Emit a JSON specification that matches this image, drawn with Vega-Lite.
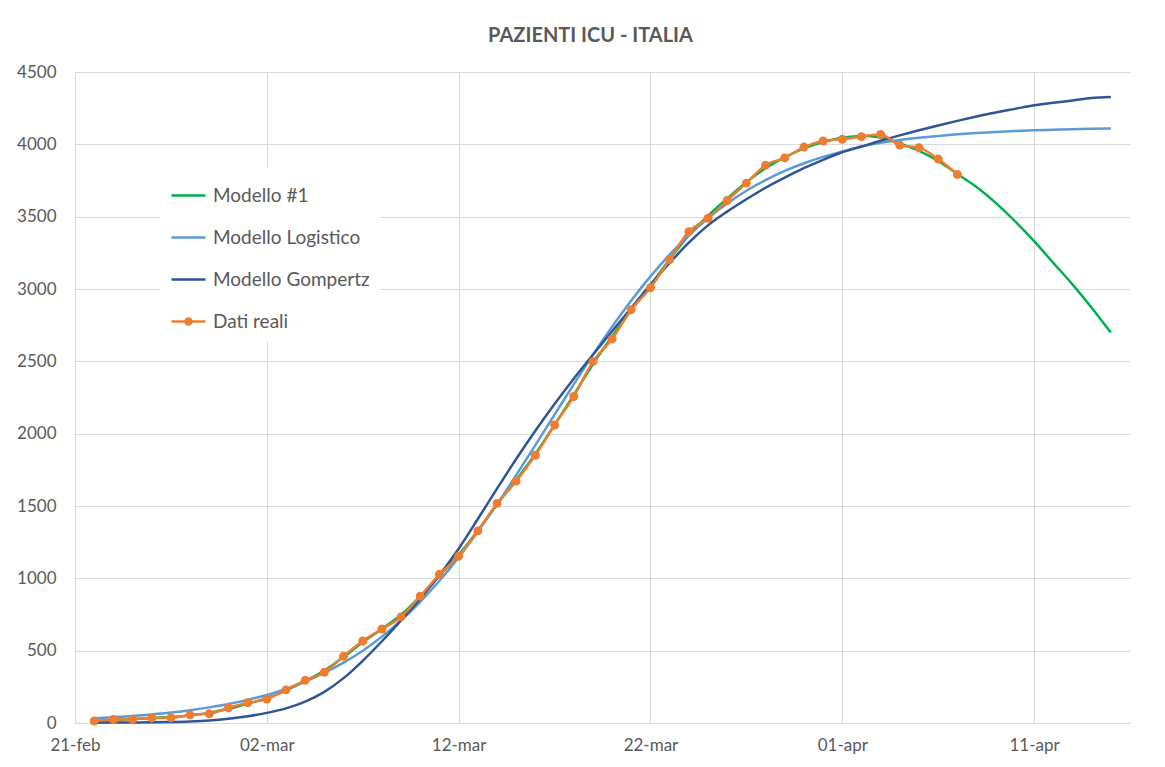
{
  "$schema": "https://vega.github.io/schema/vega-lite/v6.json",
  "width": 1055,
  "height": 651,
  "autosize": {"type": "none"},
  "padding": {"left": 75, "top": 72, "right": 35, "bottom": 44},
  "background": "white",
  "title": {
    "text": "PAZIENTI ICU - ITALIA",
    "font": "Lato",
    "fontSize": 20,
    "fontWeight": "bold",
    "color": "#595959",
    "offset": 17,
    "dx": -12,
    "anchor": "middle"
  },
  "config": {
    "view": {"stroke": null},
    "axis": {
      "labelFont": "Lato",
      "labelFontSize": 17,
      "labelColor": "#595959",
      "gridColor": "#D9D9D9",
      "gridWidth": 1,
      "ticks": false,
      "tickSize": 0,
      "title": null
    }
  },
  "data": {
    "values": [
      {"data": "2020-02-22", "modello1": 15, "logistico": 32, "gompertz": 2, "reali": 14},
      {"data": "2020-02-23", "modello1": 21, "logistico": 39, "gompertz": 3, "reali": 24},
      {"data": "2020-02-24", "modello1": 27, "logistico": 48, "gompertz": 4, "reali": 26},
      {"data": "2020-02-25", "modello1": 33, "logistico": 59, "gompertz": 5, "reali": 35},
      {"data": "2020-02-26", "modello1": 41, "logistico": 72, "gompertz": 7, "reali": 36},
      {"data": "2020-02-27", "modello1": 52, "logistico": 88, "gompertz": 11, "reali": 56},
      {"data": "2020-02-28", "modello1": 70, "logistico": 108, "gompertz": 18, "reali": 64},
      {"data": "2020-02-29", "modello1": 98, "logistico": 131, "gompertz": 30, "reali": 105},
      {"data": "2020-03-01", "modello1": 133, "logistico": 160, "gompertz": 47, "reali": 140},
      {"data": "2020-03-02", "modello1": 172, "logistico": 194, "gompertz": 70, "reali": 166},
      {"data": "2020-03-03", "modello1": 226, "logistico": 236, "gompertz": 101, "reali": 229},
      {"data": "2020-03-04", "modello1": 290, "logistico": 286, "gompertz": 148, "reali": 295},
      {"data": "2020-03-05", "modello1": 362, "logistico": 346, "gompertz": 215, "reali": 351},
      {"data": "2020-03-06", "modello1": 456, "logistico": 417, "gompertz": 310, "reali": 462},
      {"data": "2020-03-07", "modello1": 558, "logistico": 500, "gompertz": 430, "reali": 567},
      {"data": "2020-03-08", "modello1": 650, "logistico": 597, "gompertz": 565, "reali": 650},
      {"data": "2020-03-09", "modello1": 748, "logistico": 709, "gompertz": 710, "reali": 733},
      {"data": "2020-03-10", "modello1": 876, "logistico": 838, "gompertz": 860, "reali": 877},
      {"data": "2020-03-11", "modello1": 1020, "logistico": 983, "gompertz": 1022, "reali": 1028},
      {"data": "2020-03-12", "modello1": 1162, "logistico": 1145, "gompertz": 1205, "reali": 1153},
      {"data": "2020-03-13", "modello1": 1330, "logistico": 1322, "gompertz": 1410, "reali": 1328},
      {"data": "2020-03-14", "modello1": 1510, "logistico": 1512, "gompertz": 1620, "reali": 1518},
      {"data": "2020-03-15", "modello1": 1680, "logistico": 1713, "gompertz": 1825, "reali": 1672},
      {"data": "2020-03-16", "modello1": 1860, "logistico": 1921, "gompertz": 2020, "reali": 1851},
      {"data": "2020-03-17", "modello1": 2060, "logistico": 2132, "gompertz": 2205, "reali": 2060},
      {"data": "2020-03-18", "modello1": 2268, "logistico": 2341, "gompertz": 2380, "reali": 2257},
      {"data": "2020-03-19", "modello1": 2480, "logistico": 2545, "gompertz": 2545, "reali": 2498},
      {"data": "2020-03-20", "modello1": 2672, "logistico": 2739, "gompertz": 2708, "reali": 2655},
      {"data": "2020-03-21", "modello1": 2855, "logistico": 2920, "gompertz": 2868, "reali": 2857},
      {"data": "2020-03-22", "modello1": 3025, "logistico": 3087, "gompertz": 3030, "reali": 3009},
      {"data": "2020-03-23", "modello1": 3205, "logistico": 3238, "gompertz": 3180, "reali": 3204},
      {"data": "2020-03-24", "modello1": 3370, "logistico": 3371, "gompertz": 3320, "reali": 3396},
      {"data": "2020-03-25", "modello1": 3505, "logistico": 3489, "gompertz": 3440, "reali": 3489},
      {"data": "2020-03-26", "modello1": 3625, "logistico": 3591, "gompertz": 3535, "reali": 3612},
      {"data": "2020-03-27", "modello1": 3738, "logistico": 3679, "gompertz": 3620, "reali": 3732},
      {"data": "2020-03-28", "modello1": 3835, "logistico": 3753, "gompertz": 3700, "reali": 3856},
      {"data": "2020-03-29", "modello1": 3910, "logistico": 3816, "gompertz": 3770, "reali": 3906},
      {"data": "2020-03-30", "modello1": 3972, "logistico": 3869, "gompertz": 3835, "reali": 3981},
      {"data": "2020-03-31", "modello1": 4015, "logistico": 3913, "gompertz": 3893, "reali": 4023},
      {"data": "2020-04-01", "modello1": 4045, "logistico": 3950, "gompertz": 3945, "reali": 4035},
      {"data": "2020-04-02", "modello1": 4058, "logistico": 3985, "gompertz": 3985, "reali": 4053},
      {"data": "2020-04-03", "modello1": 4048, "logistico": 4010, "gompertz": 4025, "reali": 4068},
      {"data": "2020-04-04", "modello1": 4005, "logistico": 4030, "gompertz": 4062, "reali": 3994},
      {"data": "2020-04-05", "modello1": 3955, "logistico": 4045, "gompertz": 4097, "reali": 3977},
      {"data": "2020-04-06", "modello1": 3885, "logistico": 4058, "gompertz": 4130, "reali": 3898},
      {"data": "2020-04-07", "modello1": 3795, "logistico": 4069, "gompertz": 4162, "reali": 3792},
      {"data": "2020-04-08", "modello1": 3705, "logistico": 4078, "gompertz": 4192},
      {"data": "2020-04-09", "modello1": 3595, "logistico": 4086, "gompertz": 4220},
      {"data": "2020-04-10", "modello1": 3469, "logistico": 4092, "gompertz": 4245},
      {"data": "2020-04-11", "modello1": 3331, "logistico": 4097, "gompertz": 4270},
      {"data": "2020-04-12", "modello1": 3181, "logistico": 4101, "gompertz": 4287},
      {"data": "2020-04-13", "modello1": 3032, "logistico": 4105, "gompertz": 4303},
      {"data": "2020-04-14", "modello1": 2871, "logistico": 4108, "gompertz": 4320},
      {"data": "2020-04-15", "modello1": 2700, "logistico": 4110, "gompertz": 4328}
    ]
  },
  "transform": [
    {"fold": ["modello1", "logistico", "gompertz", "reali"], "as": ["serie", "valore"]},
    {"filter": "isValid(datum.valore)"}
  ],
  "encoding": {
    "x": {
      "field": "data",
      "type": "temporal",
      "scale": {
        "type": "utc",
        "domain": [
          {"year": 2020, "month": 2, "date": 21, "utc": true},
          {"year": 2020, "month": 4, "date": 16, "utc": true}
        ]
      },
      "axis": {
        "values": [
          {"year": 2020, "month": 2, "date": 21, "utc": true},
          {"year": 2020, "month": 3, "date": 2, "utc": true},
          {"year": 2020, "month": 3, "date": 12, "utc": true},
          {"year": 2020, "month": 3, "date": 22, "utc": true},
          {"year": 2020, "month": 4, "date": 1, "utc": true},
          {"year": 2020, "month": 4, "date": 11, "utc": true}
        ],
        "labelExpr": "utcFormat(datum.value, '%d') + '-' + lower(utcFormat(datum.value, '%b'))",
        "domain": true,
        "domainColor": "#D9D9D9",
        "domainWidth": 1,
        "grid": true,
        "labelPadding": 14,
        "labelFlush": false
      }
    },
    "y": {
      "field": "valore",
      "type": "quantitative",
      "scale": {"domain": [0, 4500], "nice": false},
      "axis": {
        "values": [0, 500, 1000, 1500, 2000, 2500, 3000, 3500, 4000, 4500],
        "format": "d",
        "domain": false,
        "grid": true,
        "labelPadding": 19
      }
    }
  },
  "layer": [
    {
      "mark": {"type": "line", "strokeWidth": 2.5, "interpolate": "monotone"},
      "encoding": {
        "color": {
          "field": "serie",
          "type": "nominal",
          "scale": {
            "domain": ["modello1", "logistico", "gompertz", "reali"],
            "range": ["#00B050", "#5B9BD5", "#2F5597", "#ED7D31"]
          },
          "legend": {
            "orient": "none",
            "legendX": 85,
            "legendY": 95,
            "title": null,
            "fillColor": "white",
            "padding": 10,
            "symbolType": "stroke",
            "symbolSize": 1156,
            "symbolStrokeWidth": 2.5,
            "rowPadding": 13,
            "labelOffset": 6,
            "labelFont": "Lato",
            "labelFontSize": 19,
            "labelColor": "#595959",
            "labelExpr": "datum.value == 'modello1' ? 'Modello #1' : datum.value == 'logistico' ? 'Modello Logistico' : datum.value == 'gompertz' ? 'Modello Gompertz' : 'Dati reali'",
            "encode": {
              "symbols": {
                "update": {
                  "shape": {"signal": "datum.value == 'reali' ? 'M-1,0H1M-0.18,0A0.18,0.18 0 1,0 0.18,0A0.18,0.18 0 1,0 -0.18,0Z' : 'stroke'"},
                  "fill": {"signal": "datum.value == 'reali' ? '#ED7D31' : 'transparent'"}
                }
              }
            }
          }
        }
      }
    },
    {
      "transform": [{"filter": "datum.serie == 'reali'"}],
      "mark": {"type": "point", "filled": true, "size": 80, "opacity": 1, "color": "#ED7D31"}
    }
  ]
}
